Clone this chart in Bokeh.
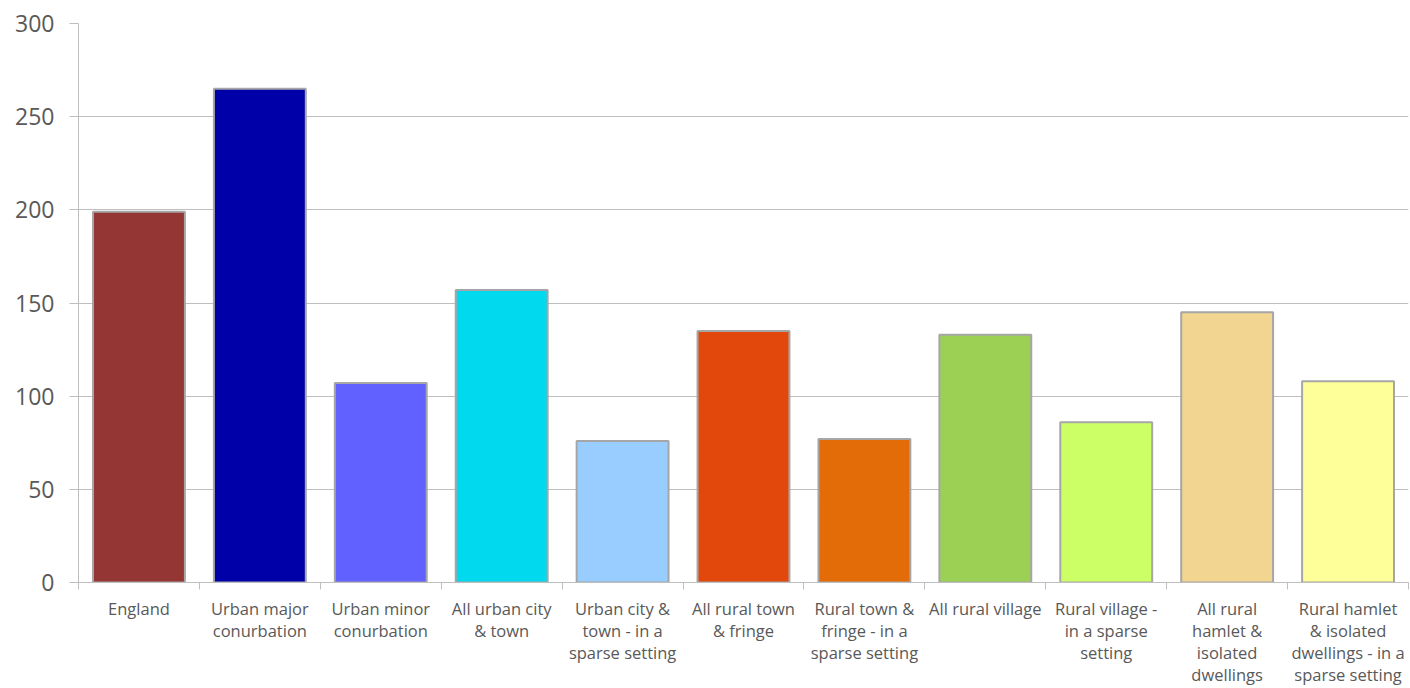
from bokeh.plotting import figure
from bokeh.models import FixedTicker, ColumnDataSource, Range1d
from bokeh.embed import file_html
from bokeh.resources import INLINE

categories = [
    "England",
    "Urban major\nconurbation",
    "Urban minor\nconurbation",
    "All urban city\n& town",
    "Urban city &\ntown - in a\nsparse setting",
    "All rural town\n& fringe",
    "Rural town &\nfringe - in a\nsparse setting",
    "All rural village",
    "Rural village -\nin a sparse\nsetting",
    "All rural\nhamlet &\nisolated\ndwellings",
    "Rural hamlet\n& isolated\ndwellings - in a\nsparse setting",
]
values = [199, 265, 107, 157, 76, 135, 77, 133, 86, 145, 108]
colors = ["#943634", "#0000A8", "#6161FF", "#00D9EE", "#99CCFF", "#E2470B",
          "#E36C09", "#9BD055", "#CCFF66", "#F1D590", "#FFFF99"]
y_ticks = [0, 50, 100, 150, 200, 250, 300]

n = len(categories)
centers = [i + 0.5 for i in range(n)]

src = ColumnDataSource(dict(x=centers, top=values, color=colors))

p = figure(width=1410, height=688, output_backend="svg", toolbar_location=None,
           x_range=Range1d(0, n), y_range=Range1d(0, 300),
           min_border_left=78, min_border_right=2, min_border_top=23, min_border_bottom=100)
p.outline_line_color = None
p.background_fill_color = "white"
p.border_fill_color = "white"

p.vbar(x="x", top="top", width=0.76, bottom=0, fill_color="color",
       line_color="#A6A6A6", line_width=2, source=src)

p.xgrid.grid_line_color = None
p.ygrid.grid_line_color = "#BFBFBF"
p.ygrid.grid_line_width = 1
p.ygrid.ticker = FixedTicker(ticks=y_ticks)

p.yaxis.ticker = FixedTicker(ticks=y_ticks)
p.yaxis.axis_line_color = "#BFBFBF"
p.yaxis.major_tick_line_color = "#BFBFBF"
p.yaxis.major_tick_out = 9
p.yaxis.major_tick_in = 0
p.yaxis.minor_tick_line_color = None
p.yaxis.major_label_text_font = "Open Sans"
p.yaxis.major_label_text_font_size = "23px"
p.yaxis.major_label_text_color = "#595959"
p.yaxis.major_label_standoff = 15

p.xaxis.ticker = FixedTicker(ticks=centers, minor_ticks=list(range(n + 1)))
p.xaxis.major_label_overrides = {c: lab for c, lab in zip(centers, categories)}
p.xaxis.axis_line_color = "#BFBFBF"
p.xaxis.major_tick_line_color = None
p.xaxis.major_tick_out = 0
p.xaxis.major_tick_in = 0
p.xaxis.minor_tick_line_color = "#BFBFBF"
p.xaxis.minor_tick_out = 7
p.xaxis.minor_tick_in = 0
p.xaxis.major_label_text_font = "Open Sans"
p.xaxis.major_label_text_font_size = "16.5px"
p.xaxis.major_label_text_color = "#595959"
p.xaxis.major_label_text_line_height = 0.96
p.xaxis.major_label_standoff = 7

open("out.html", "w").write(file_html(p, INLINE))
